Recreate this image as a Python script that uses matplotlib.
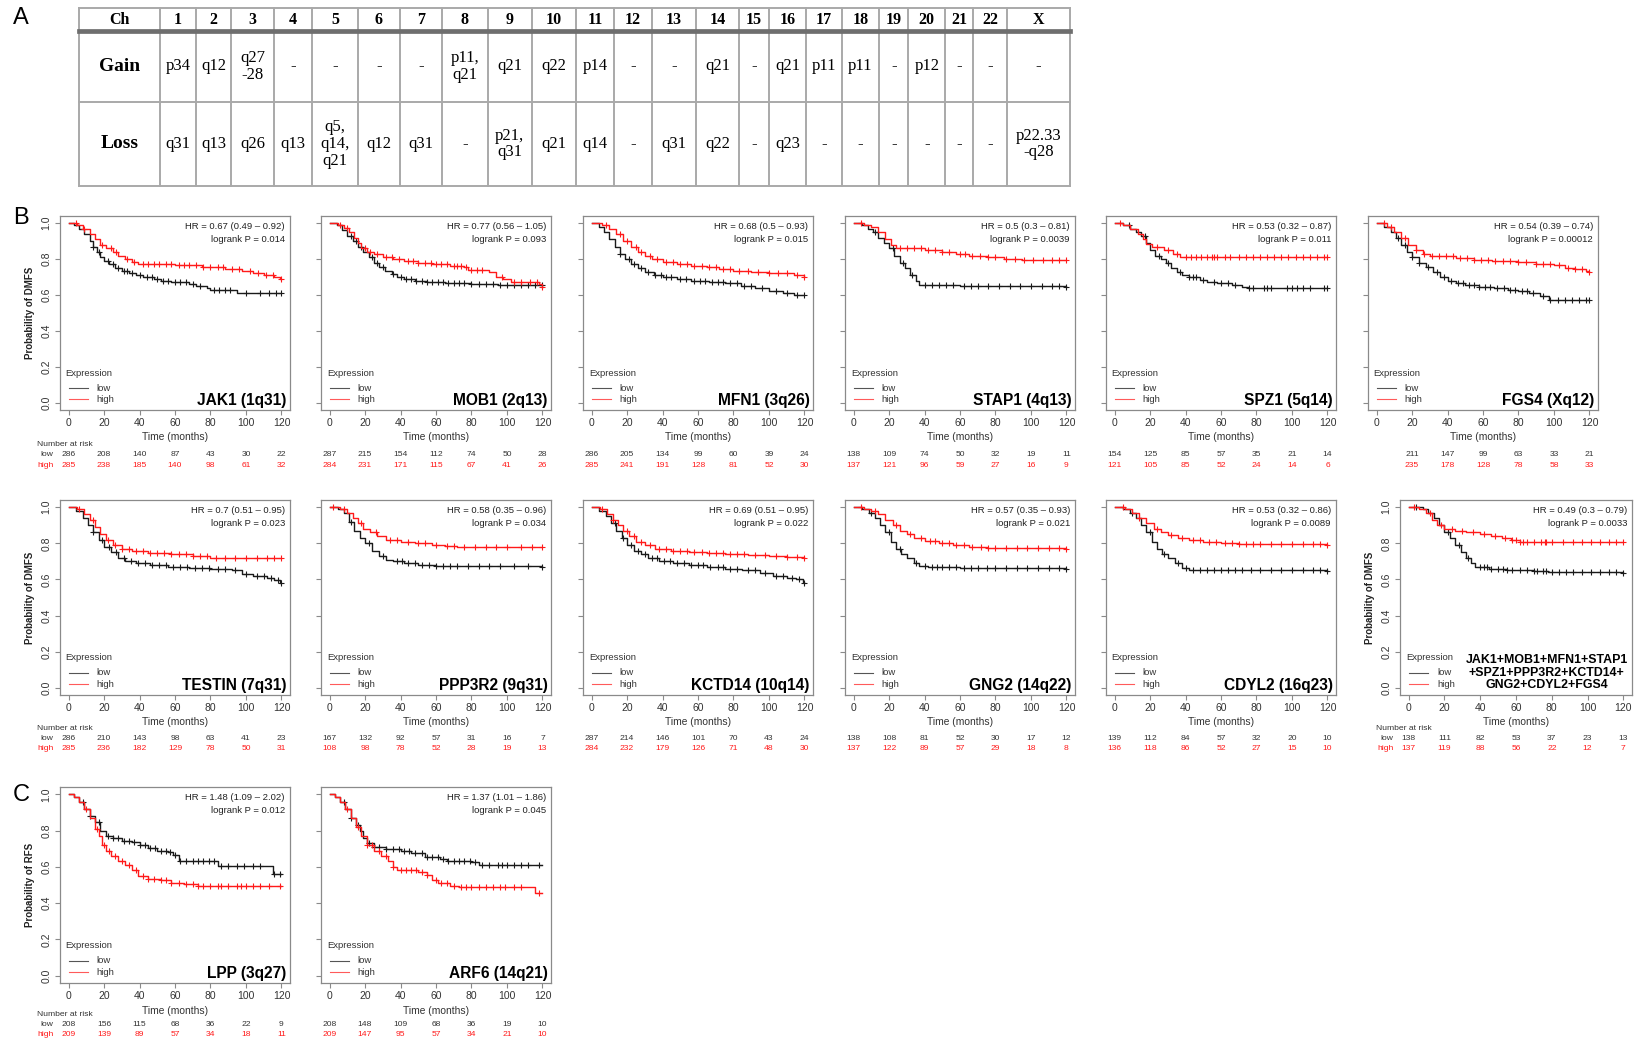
import numpy as np
import matplotlib
matplotlib.use("Agg")
import matplotlib.pyplot as plt
from matplotlib.transforms import blended_transform_factory

W, H = 1641, 1043
SANS = "Liberation Sans"
SERIF = "Liberation Serif"
RED = "#ff1a1a"
BLACK = "#1a1a1a"

# ── Table A data ──────────────────────────────────────────────────────────────
CHROMOSOMES = ["1", "2", "3", "4", "5", "6", "7", "8", "9", "10", "11", "12",
               "13", "14", "15", "16", "17", "18", "19", "20", "21", "22", "X"]
GAIN = ["p34", "q12", "q27\n-28", "-", "-", "-", "-", "p11,\nq21", "q21", "q22",
        "p14", "-", "-", "q21", "-", "q21", "p11", "p11", "-", "p12", "-", "-", "-"]
LOSS = ["q31", "q13", "q26", "q13", "q5,\nq14,\nq21", "q12", "q31", "-", "p21,\nq31",
        "q21", "q14", "-", "q31", "q22", "-", "q23", "-", "-", "-", "-", "-", "-",
        "p22.33\n-q28"]

# ── Survival panels (B and C) ─────────────────────────────────────────────────
GENES = ["JAK1 (1q31)", "MOB1 (2q13)", "MFN1 (3q26)", "STAP1 (4q13)", "SPZ1 (5q14)",
         "FGS4 (Xq12)", "TESTIN (7q31)", "PPP3R2 (9q31)", "KCTD14 (10q14)",
         "GNG2 (14q22)", "CDYL2 (16q23)",
         "JAK1+MOB1+MFN1+STAP1\n+SPZ1+PPP3R2+KCTD14+\nGNG2+CDYL2+FGS4",
         "LPP (3q27)", "ARF6 (14q21)"]
HR_TEXT = ["0.67 (0.49 – 0.92)", "0.77 (0.56 – 1.05)", "0.68 (0.5 – 0.93)",
           "0.5 (0.3 – 0.81)", "0.53 (0.32 – 0.87)", "0.54 (0.39 – 0.74)",
           "0.7 (0.51 – 0.95)", "0.58 (0.35 – 0.96)", "0.69 (0.51 – 0.95)",
           "0.57 (0.35 – 0.93)", "0.53 (0.32 – 0.86)", "0.49 (0.3 – 0.79)",
           "1.48 (1.09 – 2.02)", "1.37 (1.01 – 1.86)"]
P_TEXT = ["0.014", "0.093", "0.015", "0.0039", "0.011", "0.00012", "0.023", "0.034",
          "0.022", "0.021", "0.0089", "0.0033", "0.012", "0.045"]
Y_LABELS = ["Probability of DMFS"] * 12 + ["Probability of RFS"] * 2

RISK_TIMES = [0, 20, 40, 60, 80, 100, 120]
RISK_LOW = [
    [286, 208, 140, 87, 43, 30, 22], [287, 215, 154, 112, 74, 50, 28],
    [286, 205, 134, 99, 60, 39, 24], [138, 109, 74, 50, 32, 19, 11],
    [154, 125, 85, 57, 35, 21, 14], [None, 211, 147, 99, 63, 33, 21],
    [286, 210, 143, 98, 63, 41, 23], [167, 132, 92, 57, 31, 16, 7],
    [287, 214, 146, 101, 70, 43, 24], [138, 108, 81, 52, 30, 17, 12],
    [139, 112, 84, 57, 32, 20, 10], [138, 111, 82, 53, 37, 23, 13],
    [208, 156, 115, 68, 36, 22, 9], [208, 148, 109, 68, 36, 19, 10]]
RISK_HIGH = [
    [285, 238, 185, 140, 98, 61, 32], [284, 231, 171, 115, 67, 41, 26],
    [285, 241, 191, 128, 81, 52, 30], [137, 121, 96, 59, 27, 16, 9],
    [121, 105, 85, 52, 24, 14, 6], [None, 235, 178, 128, 78, 58, 33],
    [285, 236, 182, 129, 78, 50, 31], [108, 98, 78, 52, 28, 19, 13],
    [284, 232, 179, 126, 71, 48, 30], [137, 122, 89, 57, 29, 18, 8],
    [136, 118, 86, 52, 27, 15, 10], [137, 119, 88, 56, 22, 12, 7],
    [209, 139, 89, 57, 34, 18, 11], [209, 147, 95, 57, 34, 21, 10]]

# (time, survival) step points, low expression
LOW_STEPS = [
    [(0, 1), (3, .99), (6, .97), (9, .94), (12, .90), (14, .87), (16, .84), (18, .81), (20, .79),
     (23, .77), (26, .75), (30, .735), (34, .72), (38, .71), (42, .70), (48, .69), (52, .68),
     (58, .675), (62, .67), (68, .66), (72, .65), (78, .64), (80, .63), (95, .61), (120, .61)],
    [(0, 1), (4, .99), (7, .96), (10, .93), (13, .90), (16, .87), (19, .84), (22, .81), (25, .78),
     (28, .755), (31, .735), (35, .715), (38, .70), (42, .69), (48, .68), (55, .672), (65, .665),
     (80, .66), (95, .655), (120, .655)],
    [(0, 1), (4, .98), (7, .95), (10, .91), (13, .87), (16, .83), (19, .80), (22, .77), (26, .75),
     (30, .73), (35, .71), (40, .70), (48, .69), (56, .68), (66, .675), (75, .665), (84, .65),
     (92, .64), (100, .62), (108, .61), (114, .60), (120, .60)],
    [(0, 1), (5, .99), (8, .97), (11, .95), (14, .92), (17, .89), (20, .86), (23, .82), (26, .78),
     (29, .75), (32, .71), (35, .68), (37, .655), (60, .65), (120, .645)],
    [(0, 1), (5, .99), (9, .97), (12, .95), (15, .93), (18, .89), (20, .85), (23, .82), (26, .80),
     (29, .78), (32, .75), (35, .73), (38, .71), (42, .70), (48, .685), (52, .67), (58, .665),
     (66, .655), (72, .645), (75, .637), (120, .637)],
    [(0, 1), (4, .98), (8, .95), (11, .92), (14, .88), (17, .84), (20, .81), (24, .78), (28, .755),
     (32, .73), (36, .70), (40, .68), (45, .665), (50, .655), (58, .645), (66, .64), (74, .63),
     (80, .62), (86, .61), (92, .595), (97, .575), (120, .57)],
    [(0, 1), (4, .98), (8, .94), (11, .90), (14, .86), (17, .82), (20, .78), (24, .75), (28, .72),
     (32, .70), (38, .69), (46, .68), (56, .67), (68, .665), (80, .66), (92, .65), (98, .63),
     (104, .62), (112, .61), (116, .595), (119, .58), (120, .58)],
    [(0, 1), (5, .99), (8, .97), (11, .92), (14, .87), (17, .83), (20, .80), (24, .76), (28, .73),
     (32, .71), (36, .70), (42, .69), (50, .68), (60, .675), (120, .67)],
    [(0, 1), (4, .98), (8, .95), (11, .91), (14, .87), (17, .83), (20, .79), (24, .76), (28, .74),
     (32, .72), (38, .70), (46, .69), (55, .68), (65, .67), (75, .66), (85, .65), (95, .635),
     (102, .62), (110, .61), (115, .60), (119, .585), (120, .58)],
    [(0, 1), (5, .99), (9, .97), (12, .94), (15, .90), (18, .86), (21, .81), (24, .77), (27, .74),
     (30, .72), (34, .69), (37, .675), (42, .67), (60, .665), (120, .66)],
    [(0, 1), (5, .99), (9, .97), (12, .94), (15, .90), (18, .86), (21, .81), (24, .77), (27, .74),
     (30, .72), (34, .69), (38, .665), (42, .655), (50, .65), (120, .645)],
    [(0, 1), (8, .99), (11, .97), (14, .94), (17, .90), (20, .86), (23, .83), (26, .79), (29, .75),
     (32, .72), (35, .69), (37, .667), (45, .66), (55, .655), (70, .648), (78, .64), (120, .638)],
    [(0, 1), (3, .985), (6, .96), (9, .92), (12, .88), (15, .845), (18, .80), (21, .77), (25, .76),
     (30, .745), (36, .735), (40, .72), (45, .705), (50, .69), (56, .68), (59, .665), (62, .63),
     (84, .604), (115, .558), (120, .558)],
    [(0, 1), (3, .985), (6, .96), (9, .92), (12, .87), (15, .83), (17, .80), (19, .76), (21, .73),
     (25, .71), (32, .70), (40, .69), (46, .675), (54, .655), (62, .645), (66, .635), (80, .628),
     (84, .61), (120, .61)]]

# (time, survival) step points, high expression
HIGH_STEPS = [
    [(0, 1), (5, .99), (8, .97), (12, .94), (15, .91), (18, .88), (21, .86), (25, .84), (28, .82),
     (32, .80), (36, .785), (39, .77), (60, .765), (75, .755), (88, .745), (98, .735), (104, .72),
     (110, .71), (116, .70), (119, .69), (120, .69)],
    [(0, 1), (5, .99), (8, .975), (11, .95), (14, .92), (16, .89), (18, .86), (21, .84), (25, .83),
     (30, .81), (36, .80), (42, .79), (50, .78), (58, .77), (68, .76), (76, .755), (78, .74),
     (90, .73), (94, .70), (98, .69), (102, .67), (118, .66), (120, .645)],
    [(0, 1), (6, .99), (10, .97), (14, .94), (18, .90), (22, .87), (26, .84), (30, .82), (34, .80),
     (40, .785), (48, .77), (56, .76), (65, .755), (72, .745), (80, .735), (90, .73), (100, .725),
     (108, .72), (114, .71), (120, .70)],
    [(0, 1), (6, .99), (10, .98), (14, .95), (18, .91), (21, .88), (24, .86), (40, .85), (50, .84),
     (58, .83), (65, .82), (75, .81), (85, .80), (95, .795), (120, .795)],
    [(0, 1), (5, .99), (9, .97), (13, .94), (16, .91), (18, .885), (21, .87), (28, .85), (33, .83),
     (37, .81), (120, .81)],
    [(0, 1), (6, .98), (10, .95), (14, .92), (18, .88), (22, .85), (26, .83), (30, .815), (45, .805),
     (55, .795), (65, .79), (80, .785), (90, .775), (100, .765), (106, .75), (112, .745),
     (118, .735), (120, .73)],
    [(0, 1), (5, .99), (9, .96), (12, .93), (15, .89), (18, .85), (21, .82), (25, .79), (30, .77),
     (36, .755), (45, .745), (58, .74), (70, .73), (80, .72), (120, .72)],
    [(0, 1), (6, .99), (10, .97), (13, .94), (16, .91), (19, .88), (23, .86), (27, .84), (32, .82),
     (40, .81), (48, .80), (58, .79), (65, .785), (72, .78), (120, .78)],
    [(0, 1), (5, .99), (9, .96), (12, .93), (15, .90), (18, .87), (21, .84), (25, .81), (30, .79),
     (36, .77), (45, .76), (55, .75), (65, .745), (75, .74), (88, .735), (100, .73), (110, .725),
     (120, .72)],
    [(0, 1), (6, .99), (10, .98), (14, .96), (18, .93), (22, .90), (26, .87), (30, .85), (34, .83),
     (40, .815), (48, .80), (56, .79), (65, .78), (75, .775), (120, .77)],
    [(0, 1), (6, .99), (10, .97), (14, .94), (18, .91), (22, .88), (26, .86), (30, .845), (36, .83),
     (42, .82), (50, .81), (60, .80), (70, .795), (120, .79)],
    [(0, 1), (6, .99), (10, .97), (13, .93), (16, .90), (20, .88), (26, .87), (32, .86), (40, .85),
     (46, .84), (52, .83), (57, .82), (62, .81), (66, .805), (120, .805)],
    [(0, 1), (3, .985), (6, .96), (9, .92), (12, .87), (15, .81), (17, .77), (19, .72), (21, .69),
     (24, .66), (28, .63), (32, .61), (36, .58), (39, .55), (45, .535), (52, .525), (58, .51),
     (65, .505), (73, .496), (120, .496)],
    [(0, 1), (3, .985), (6, .96), (9, .92), (12, .87), (15, .82), (18, .77), (21, .72), (25, .69),
     (29, .66), (33, .63), (36, .60), (38, .58), (50, .573), (55, .555), (58, .53), (61, .509),
     (68, .495), (73, .49), (115, .49), (116, .455), (120, .455)]]

# censored observation times ("+" marks)
LOW_CENSOR = [
    [14, 17, 22, 25, 28, 31, 33, 36, 40, 44, 47, 50, 53, 56, 60, 63, 66, 70, 74, 82, 85, 88, 91, 100, 108, 113, 117, 120],
    [12, 15, 18, 24, 27, 30, 36, 40, 43, 46, 49, 52, 55, 58, 61, 64, 67, 70, 73, 76, 80, 84, 88, 92, 96, 100, 104, 108, 112, 116, 120],
    [16, 21, 24, 28, 32, 36, 39, 42, 45, 50, 53, 58, 61, 64, 68, 71, 74, 78, 82, 86, 90, 96, 104, 110, 116, 120],
    [12, 22, 28, 33, 40, 44, 48, 52, 56, 62, 66, 70, 76, 82, 88, 94, 100, 106, 112, 116, 120],
    [8, 17, 25, 30, 37, 42, 44, 46, 50, 56, 60, 64, 68, 76, 78, 84, 86, 88, 97, 100, 103, 106, 110, 118, 120],
    [12, 16, 20, 24, 29, 34, 38, 42, 46, 49, 52, 55, 58, 61, 64, 68, 72, 75, 78, 82, 85, 88, 94, 98, 102, 106, 110, 114, 118, 120],
    [14, 19, 23, 27, 31, 35, 39, 43, 47, 51, 55, 59, 63, 67, 71, 75, 79, 84, 88, 94, 100, 106, 110, 114, 118, 120],
    [12, 22, 30, 38, 41, 44, 48, 52, 56, 60, 64, 68, 72, 78, 84, 90, 96, 104, 112, 120],
    [13, 18, 22, 26, 30, 34, 37, 41, 44, 48, 52, 56, 60, 63, 67, 71, 74, 78, 82, 88, 92, 98, 104, 108, 113, 117, 120],
    [10, 20, 26, 35, 40, 44, 47, 50, 54, 58, 62, 66, 70, 75, 80, 86, 92, 98, 104, 110, 116, 120],
    [10, 20, 28, 36, 40, 44, 48, 52, 56, 60, 64, 68, 72, 77, 82, 88, 94, 100, 106, 112, 116, 120],
    [4, 22, 28, 33, 40, 42, 44, 46, 50, 53, 55, 58, 62, 66, 70, 72, 75, 77, 80, 84, 88, 92, 97, 102, 107, 112, 116, 120],
    [8, 12, 17, 22, 25, 28, 31, 34, 37, 40, 43, 46, 49, 52, 55, 57, 60, 63, 66, 70, 73, 76, 79, 82, 86, 90, 95, 99, 104, 108, 116, 119],
    [8, 12, 16, 22, 25, 28, 32, 36, 39, 42, 45, 48, 52, 55, 58, 61, 64, 67, 70, 73, 76, 79, 82, 86, 90, 95, 97, 100, 104, 108, 112, 118]]
HIGH_CENSOR = [
    [4, 9, 19, 24, 27, 33, 37, 42, 45, 48, 51, 55, 58, 62, 65, 68, 72, 76, 80, 84, 87, 92, 96, 102, 107, 111, 115, 120],
    [6, 10, 20, 23, 27, 32, 35, 39, 44, 47, 50, 54, 57, 60, 63, 66, 70, 72, 74, 77, 80, 83, 86, 97, 104, 108, 113, 117, 120],
    [8, 16, 20, 25, 28, 33, 37, 42, 46, 50, 54, 58, 62, 66, 70, 74, 78, 83, 88, 94, 100, 105, 110, 116, 120],
    [4, 26, 30, 34, 38, 42, 46, 50, 54, 60, 63, 67, 71, 76, 80, 86, 91, 96, 101, 107, 112, 116, 120],
    [3, 24, 30, 35, 40, 43, 46, 49, 52, 55, 56, 58, 62, 65, 70, 74, 78, 82, 86, 90, 94, 98, 102, 106, 110, 114, 118, 120],
    [4, 8, 16, 22, 27, 31, 35, 39, 43, 47, 51, 55, 59, 63, 67, 71, 75, 80, 84, 90, 94, 98, 103, 108, 112, 116, 120],
    [6, 14, 22, 26, 30, 34, 38, 42, 46, 50, 54, 58, 62, 66, 70, 74, 78, 83, 88, 94, 100, 106, 112, 116, 120],
    [2, 8, 18, 26, 34, 38, 44, 50, 54, 60, 66, 70, 76, 82, 88, 94, 100, 108, 114, 120],
    [6, 12, 20, 24, 28, 33, 38, 42, 46, 50, 54, 58, 62, 66, 70, 74, 78, 82, 86, 92, 98, 104, 110, 116, 120],
    [4, 12, 24, 32, 38, 43, 46, 50, 54, 58, 62, 67, 72, 76, 80, 86, 92, 98, 104, 110, 116, 120],
    [5, 14, 24, 32, 38, 44, 48, 53, 57, 62, 66, 70, 74, 78, 82, 88, 94, 100, 106, 112, 116, 120],
    [3, 12, 18, 24, 30, 36, 42, 48, 54, 58, 60, 62, 64, 66, 70, 74, 76, 77, 80, 86, 92, 97, 102, 107, 112, 116, 120],
    [10, 16, 20, 23, 26, 30, 34, 38, 42, 45, 48, 52, 55, 58, 62, 66, 70, 73, 76, 80, 84, 86, 90, 95, 97, 100, 104, 108, 113, 119],
    [10, 16, 21, 24, 28, 32, 36, 40, 43, 46, 49, 52, 55, 60, 63, 66, 70, 74, 77, 80, 84, 88, 92, 96, 99, 104, 108, 118]]

# ── Layout (figure pixels) ────────────────────────────────────────────────────
COL_X = [60, 321, 583, 845, 1106, 1368]
ROW1 = dict(y=216, h=194, risk=(444, 455, 465), xlab=437)
ROW2 = dict(y=500, h=195, risk=(729, 739, 749), xlab=722)
ROWC = dict(y=787, h=196, risk=(1015, 1025, 1035), xlab=1011)
PANELS = ([(COL_X[i], 230, ROW1) for i in range(6)]
          + [(COL_X[i], 230, ROW2) for i in range(5)]
          + [(1400, 232, ROW2)]
          + [(COL_X[i], 230, ROWC) for i in range(2)])
FIRST_IN_ROW = {0, 6, 11, 12}

TABLE_X = [78.5, 160.1, 195.7, 231.3, 274.2, 311.9, 357.9, 399.8, 441.7, 487.7, 531.7,
           575.6, 614.4, 652.0, 696.0, 738.9, 769.3, 805.9, 841.5, 879.1, 908.4, 945.1,
           973.3, 1006.8, 1069.6]
TABLE_Y = [8, 31, 102, 186]


def px_rect(x, y, w, h):
    return [x / W, 1 - (y + h) / H, w / W, h / H]


def step_value(steps, t):
    ts = np.array([p[0] for p in steps], dtype=float)
    ss = np.array([p[1] for p in steps], dtype=float)
    idx = np.searchsorted(ts, np.asarray(t, dtype=float), side="right") - 1
    return ss[np.clip(idx, 0, len(ss) - 1)]


fig = plt.figure(figsize=(W / 100, H / 100), dpi=100)

# ── A: table ──────────────────────────────────────────────────────────────────
tax = fig.add_axes(px_rect(0, 0, W, H))
tax.set_xlim(0, W)
tax.set_ylim(H, 0)
tax.axis("off")
grid_c = "#a9a9a9"
for x in TABLE_X:
    tax.plot([x, x], [TABLE_Y[0], TABLE_Y[-1]], color=grid_c, lw=1.4)
for y in (TABLE_Y[0], TABLE_Y[2], TABLE_Y[3]):
    tax.plot([TABLE_X[0], TABLE_X[-1]], [y, y], color=grid_c, lw=1.4)
tax.plot([TABLE_X[0], TABLE_X[-1]], [TABLE_Y[1], TABLE_Y[1]], color="#6e6e6e", lw=3.4)

centers = [(a + b) / 2 for a, b in zip(TABLE_X[:-1], TABLE_X[1:])]
ymid = [(a + b) / 2 for a, b in zip(TABLE_Y[:-1], TABLE_Y[1:])]
tax.text(centers[0], ymid[0] + 1, "Ch", ha="center", va="center", family=SERIF,
         fontsize=11.5, fontweight="bold")
tax.text(centers[0], ymid[1], "Gain", ha="center", va="center", family=SERIF,
         fontsize=14, fontweight="bold")
tax.text(centers[0], ymid[2], "Loss", ha="center", va="center", family=SERIF,
         fontsize=14, fontweight="bold")
for j, ch in enumerate(CHROMOSOMES):
    cx = centers[j + 1]
    tax.text(cx, ymid[0] + 1, ch, ha="center", va="center", family=SERIF,
             fontsize=11.5, fontweight="bold")
    tax.text(cx, ymid[1], GAIN[j], ha="center", va="center", family=SERIF,
             fontsize=12, linespacing=1.05)
    tax.text(cx, ymid[2], LOSS[j], ha="center", va="center", family=SERIF,
             fontsize=12, linespacing=1.05)

for letter, (lx, ly) in zip("ABC", [(21, 18), (21, 218), (21, 795)]):
    tax.text(lx, ly, letter, ha="center", va="center", family=SANS, fontsize=17)

# ── B / C: survival panels ────────────────────────────────────────────────────
for i, (x0, w, row) in enumerate(PANELS):
    ax = fig.add_axes(px_rect(x0, row["y"], w, row["h"]))
    ax.set_xlim(-4.8, 124.8)
    ax.set_ylim(-0.04, 1.04)

    for steps, cens, col in ((LOW_STEPS[i], LOW_CENSOR[i], BLACK),
                             (HIGH_STEPS[i], HIGH_CENSOR[i], RED)):
        ts = [p[0] for p in steps]
        ss = [p[1] for p in steps]
        ax.step(ts, ss, where="post", color=col, lw=1.0)
        ax.plot(cens, step_value(steps, cens), "+", color=col, ms=4.2, mew=0.8)

    for s in ax.spines.values():
        s.set_color("#8a8a8a")
        s.set_linewidth(0.9)
    ax.set_xticks(RISK_TIMES)
    ax.set_yticks([0, 0.2, 0.4, 0.6, 0.8, 1.0])
    ax.set_yticklabels(["0.0", "0.2", "0.4", "0.6", "0.8", "1.0"], rotation=90, va="center")
    ax.tick_params(length=3.5, width=0.8, color="#8a8a8a", labelsize=7.5,
                   labelcolor="#333333", pad=2.5)
    for lab in ax.get_xticklabels() + ax.get_yticklabels():
        lab.set_family(SANS)
    if i not in FIRST_IN_ROW:
        ax.tick_params(labelleft=False)
    else:
        fig.text((x0 - 30) / W, 1 - (row["y"] + row["h"] / 2) / H, Y_LABELS[i],
                 rotation=90, ha="center", va="center", family=SANS, fontsize=7.0,
                 fontweight="bold", color="#222222")

    # HR / p-value
    ax.text(0.978, 0.945, f"HR = {HR_TEXT[i]}", transform=ax.transAxes, ha="right",
            va="center", family=SANS, fontsize=6.8, color="#222222")
    ax.text(0.978, 0.878, f"logrank P = {P_TEXT[i]}", transform=ax.transAxes, ha="right",
            va="center", family=SANS, fontsize=6.8, color="#222222")

    # legend
    ax.text(0.025, 0.19, "Expression", transform=ax.transAxes, ha="left", va="center",
            family=SANS, fontsize=6.8, color="#333333")
    ax.plot([0.04, 0.12], [0.113, 0.113], transform=ax.transAxes, color="#555555", lw=0.8)
    ax.plot([0.04, 0.12], [0.055, 0.055], transform=ax.transAxes, color="#ff5a5a", lw=0.8)
    ax.text(0.16, 0.113, "low", transform=ax.transAxes, ha="left", va="center",
            family=SANS, fontsize=6.8, color="#333333")
    ax.text(0.16, 0.055, "high", transform=ax.transAxes, ha="left", va="center",
            family=SANS, fontsize=6.8, color="#333333")

    # gene label
    if "\n" in GENES[i]:
        ax.text(0.632, 0.115, GENES[i], transform=ax.transAxes, ha="center", va="center",
                family=SANS, fontsize=8.9, fontweight="bold", linespacing=1.05)
    else:
        ax.text(0.985, 0.05, GENES[i], transform=ax.transAxes, ha="right", va="center",
                family=SANS, fontsize=11.2, fontweight="bold")

    # x label + numbers at risk
    bt = blended_transform_factory(ax.transData, fig.transFigure)
    fig.text((x0 + w / 2) / W, 1 - row["xlab"] / H, "Time (months)", ha="center",
             va="center", family=SANS, fontsize=7.4, color="#333333")
    y_hdr, y_low, y_high = [1 - v / H for v in row["risk"]]
    for t, nl, nh in zip(RISK_TIMES, RISK_LOW[i], RISK_HIGH[i]):
        if nl is not None:
            ax.text(t, y_low, str(nl), transform=bt, ha="center", va="center",
                    family=SANS, fontsize=6.1, color="#333333")
        if nh is not None:
            ax.text(t, y_high, str(nh), transform=bt, ha="center", va="center",
                    family=SANS, fontsize=6.1, color=RED)
    if i in FIRST_IN_ROW:
        ax.text(-18, y_hdr, "Number at risk", transform=bt, ha="left", va="center",
                family=SANS, fontsize=6.1, color="#333333")
        ax.text(-8.5, y_low, "low", transform=bt, ha="right", va="center",
                family=SANS, fontsize=6.1, color="#333333")
        ax.text(-8.5, y_high, "high", transform=bt, ha="right", va="center",
                family=SANS, fontsize=6.1, color=RED)

fig.savefig("out.png", dpi=100)
plt.close(fig)
